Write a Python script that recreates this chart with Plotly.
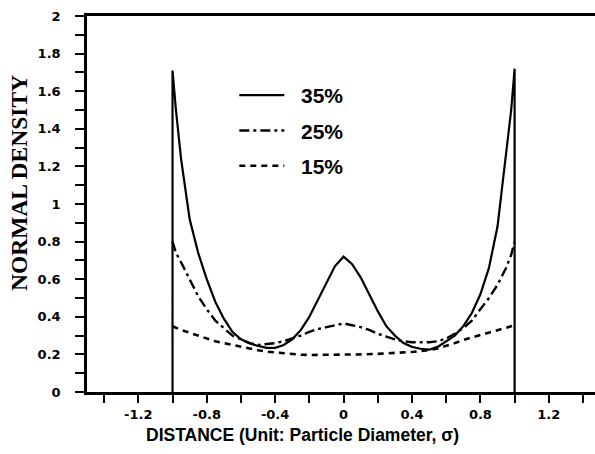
import plotly.graph_objects as go

# ---- data ----
x35 = [-1.0, -0.98, -0.95, -0.9, -0.85, -0.8, -0.75, -0.7, -0.65, -0.6, -0.55, -0.5, -0.45, -0.4,
       -0.35, -0.3, -0.25, -0.2, -0.15, -0.1, -0.05, 0.0, 0.05, 0.1, 0.15, 0.2, 0.25, 0.3, 0.35, 0.4,
       0.45, 0.5, 0.55, 0.6, 0.65, 0.7, 0.75, 0.8, 0.85, 0.9, 0.95, 0.98, 1.0]
y35 = [1.71, 1.50, 1.24, 0.92, 0.74, 0.60, 0.48, 0.39, 0.32, 0.28, 0.26, 0.245, 0.235, 0.235,
       0.25, 0.28, 0.33, 0.40, 0.49, 0.58, 0.67, 0.72, 0.68, 0.61, 0.52, 0.43, 0.35, 0.30, 0.26, 0.24,
       0.23, 0.225, 0.24, 0.27, 0.30, 0.35, 0.42, 0.52, 0.66, 0.88, 1.28, 1.50, 1.72]

x25 = [-1.0, -0.98, -0.95, -0.9, -0.85, -0.8, -0.75, -0.7, -0.65, -0.6, -0.55, -0.5, -0.45, -0.4,
       -0.35, -0.3, -0.25, -0.2, -0.15, -0.1, -0.05, 0.0, 0.05, 0.1, 0.15, 0.2, 0.25, 0.3, 0.35, 0.4,
       0.45, 0.5, 0.55, 0.6, 0.65, 0.7, 0.75, 0.8, 0.85, 0.9, 0.95, 0.98, 1.0]
y25 = [0.80, 0.74, 0.69, 0.60, 0.51, 0.44, 0.38, 0.34, 0.30, 0.28, 0.26, 0.25, 0.255, 0.26,
       0.27, 0.285, 0.30, 0.32, 0.335, 0.345, 0.355, 0.365, 0.355, 0.345, 0.33, 0.31, 0.295, 0.28,
       0.27, 0.265, 0.265, 0.265, 0.27, 0.285, 0.31, 0.34, 0.38, 0.44, 0.50, 0.57, 0.66, 0.73, 0.80]

x15 = [-1.0, -0.95, -0.9, -0.85, -0.8, -0.75, -0.7, -0.65, -0.6, -0.55, -0.5, -0.45, -0.4, -0.35,
       -0.3, -0.25, -0.2, -0.1, 0.0, 0.1, 0.2, 0.3, 0.4, 0.45, 0.5, 0.55, 0.6, 0.65, 0.7, 0.75, 0.8,
       0.85, 0.9, 0.95, 1.0]
y15 = [0.35, 0.33, 0.315, 0.30, 0.285, 0.27, 0.26, 0.25, 0.24, 0.23, 0.222, 0.215, 0.21, 0.205,
       0.20, 0.198, 0.197, 0.197, 0.20, 0.20, 0.203, 0.207, 0.213, 0.218, 0.223, 0.232, 0.245, 0.26,
       0.277, 0.29, 0.305, 0.318, 0.33, 0.343, 0.355]

series_names = ["35%", "25%", "15%"]

x_tickvals = [round(-1.4 + 0.2 * i, 1) for i in range(15)]
x_ticklabels = ["-1.2", "-0.8", "-0.4", "0", "0.4", "0.8", "1.2"]
y_tickvals = [round(0.1 * i, 1) for i in range(21)]
y_ticklabels = ["0", "0.2", "0.4", "0.6", "0.8", "1", "1.2", "1.4", "1.6", "1.8", "2"]


def fmt(v):
    return "%g" % v


x_ticktext = [fmt(v) if fmt(v) in x_ticklabels else "" for v in x_tickvals]
y_ticktext = [fmt(v) if fmt(v) in y_ticklabels else "" for v in y_tickvals]

PAD = "\u00a0\u00a0"

fig = go.Figure()

# solid curve including the vertical walls at the ends
fig.add_trace(go.Scatter(
    x=[x35[0]] + x35 + [x35[-1]], y=[0] + y35 + [0], mode="lines",
    name=PAD + series_names[0], legendgroup="a",
    line=dict(color="black", width=2.2)))
fig.add_trace(go.Scatter(
    x=x25, y=y25, mode="lines", name=PAD + series_names[1], legendgroup="b",
    line=dict(color="black", width=2.4, dash="10px,4px,3px,4px")))
fig.add_trace(go.Scatter(
    x=x15, y=y15, mode="lines", name=PAD + series_names[2], legendgroup="c",
    line=dict(color="black", width=2.6, dash="6px,5px")))

W, H = 595, 454
ml, mt, mb = 87, 16, 62
tickfont = dict(size=13, family="DejaVu Sans", weight="bold")
fig.update_layout(
    width=W, height=H,
    margin=dict(l=ml, r=0, t=mt, b=mb),
    paper_bgcolor="white", plot_bgcolor="white",
    font=dict(family="Liberation Sans, Arial, sans-serif", color="black"),
    showlegend=True,
    legend=dict(x=0.29, y=0.843, xanchor="left", yanchor="top",
                bgcolor="rgba(0,0,0,0)", tracegroupgap=5,
                font=dict(size=21, family="Liberation Sans, Arial", weight="bold"),
                itemwidth=45),
    xaxis=dict(range=[-1.5, 1.47], tickmode="array", tickvals=x_tickvals, ticktext=x_ticktext,
               ticks="outside", ticklen=8, tickwidth=2, tickcolor="black",
               showline=True, linecolor="black", linewidth=2.5, mirror=True,
               showgrid=False, zeroline=False, ticklabelstandoff=1,
               tickfont=tickfont),
    yaxis=dict(range=[0, 2], tickmode="array", tickvals=y_tickvals, ticktext=y_ticktext,
               ticks="outside", ticklen=9, tickwidth=2, tickcolor="black",
               showline=True, linecolor="black", linewidth=2.5,
               showgrid=False, zeroline=False, ticklabelstandoff=12,
               tickfont=tickfont),
    annotations=[
        dict(text="DISTANCE (Unit: Particle Diameter, σ)", xref="paper", yref="paper",
             x=(302 - ml) / (W - ml), y=-(435 - (H - mb)) / (H - mt - mb),
             xanchor="center", yanchor="middle", showarrow=False,
             font=dict(size=17.5, family="Liberation Sans, Arial", weight="bold")),
        dict(text="NORMAL DENSITY", xref="paper", yref="paper", textangle=-90,
             x=-(ml - 19) / (W - ml), y=(H - mb - 183) / (H - mt - mb),
             xanchor="center", yanchor="middle", showarrow=False,
             font=dict(size=23.5, family="Liberation Serif, Times New Roman, serif", weight="bold")),
    ],
)

fig.write_html("out.html")
